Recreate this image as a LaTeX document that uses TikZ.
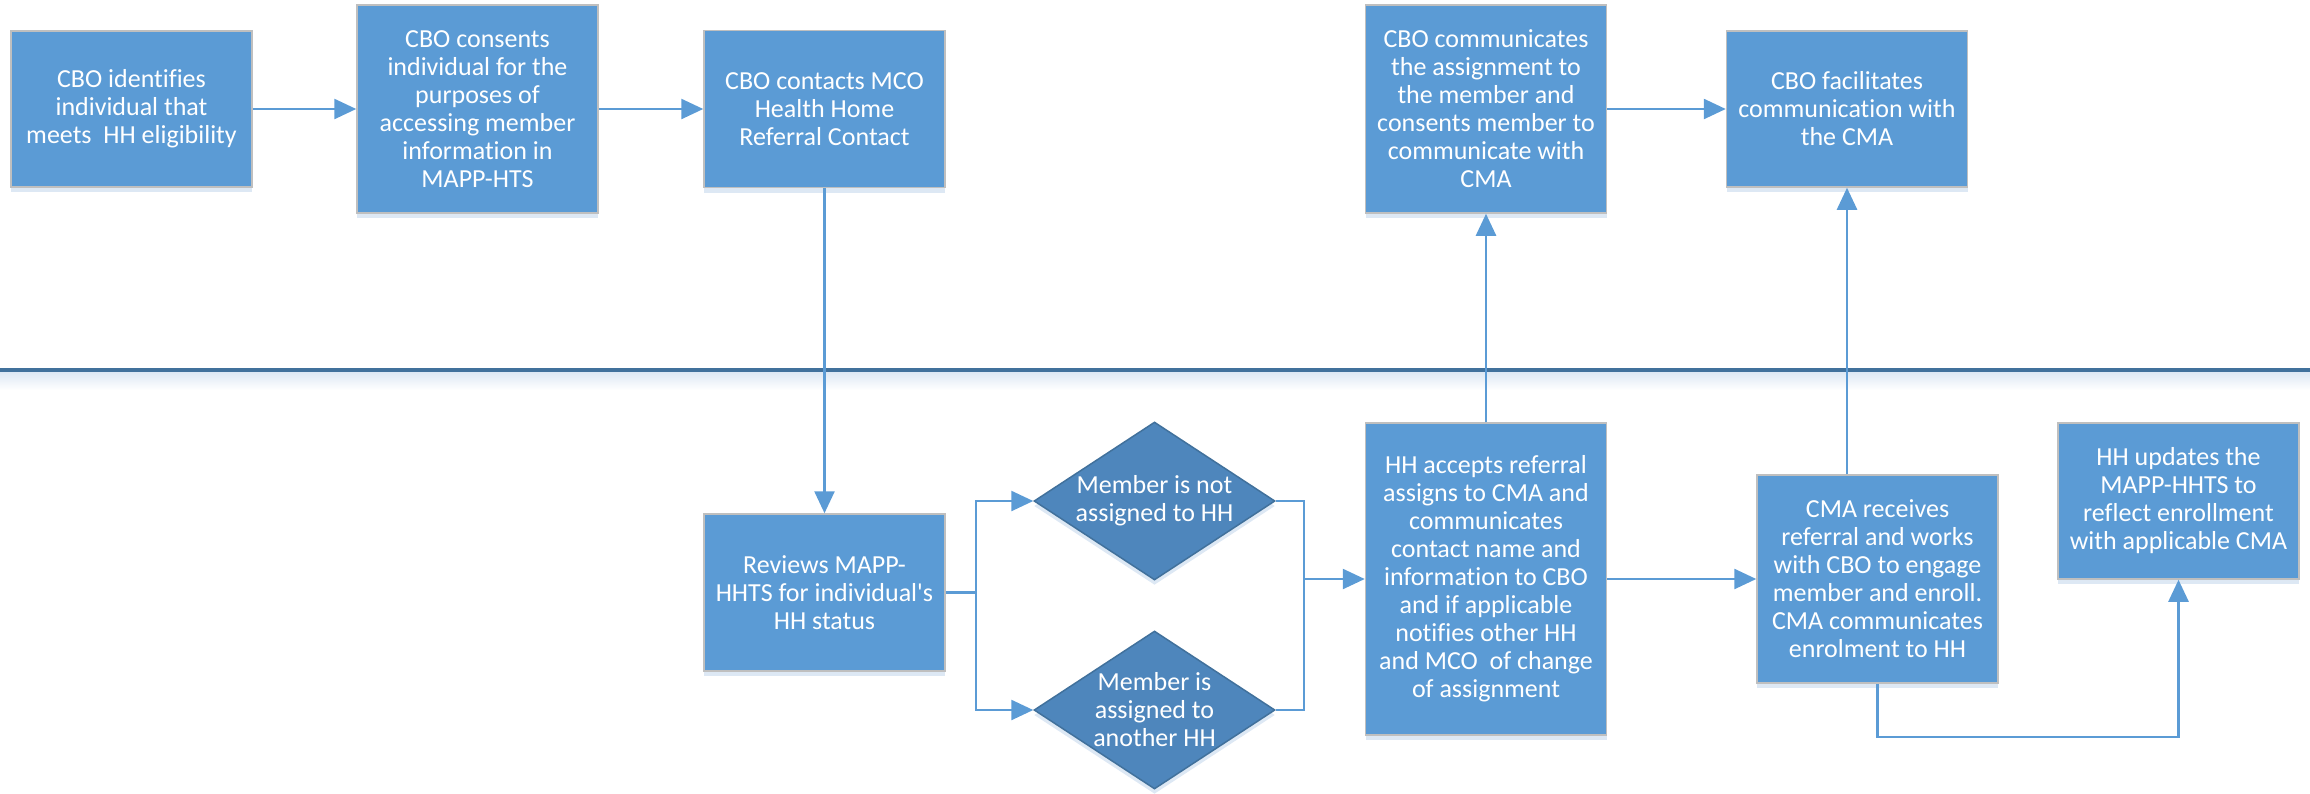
\documentclass[tikz,border=0pt]{standalone}
\usepackage{fontspec}
\setmainfont{Carlito}[Ligatures={NoCommon}]
\usetikzlibrary{arrows.meta,shapes.geometric,shadows,calc}
\definecolor{boxblue}{HTML}{5B9BD5}
\definecolor{diablue}{HTML}{4E86BC}
\definecolor{darkblue}{HTML}{41719C}
\definecolor{lineblue}{HTML}{5B9BD5}
\definecolor{boxedge}{HTML}{BFBFBF}
\definecolor{shadowblue}{HTML}{DDE8F4}
\begin{document}
\begin{tikzpicture}[x=1pt,y=-1pt,
  txt/.style={text=white, align=center, font=\fontsize{26}{28}\selectfont},
  procbox/.style={rectangle, fill=boxblue, draw=boxedge, line width=1.5pt,
    minimum width=241pt, inner sep=0pt, txt,
    drop shadow={fill=shadowblue, opacity=1, shadow xshift=0pt, shadow yshift=-5pt}},
  diam/.style={diamond, fill=diablue, draw=darkblue, line width=1.5pt,
    minimum width=241pt, minimum height=158pt, inner sep=0pt,
    drop shadow={fill=shadowblue, opacity=1, shadow xshift=0pt, shadow yshift=-5pt}},
  conn/.style={draw=lineblue, line width=2.5pt},
  arr/.style={conn, -{Triangle[length=22pt,width=20pt]}}
]
\useasboundingbox (0,0) rectangle (2310,793);

% swimlane separator
\shade[top color=shadowblue, bottom color=white] (0,372) rectangle (2310,390);
\draw[darkblue, line width=3.5pt] (0,370) -- (2310,370);

% top lane
\node[procbox, minimum height=156pt] (b1) at (131.5,109) {CBO identifies\\individual that\\meets\ \ HH eligibility};
\node[procbox, minimum height=208pt] (b2) at (477.5,109) {CBO consents\\individual for the\\purposes of\\accessing member\\information in\\MAPP-HTS};
\node[procbox, minimum height=157pt] (b3) at (824.5,109) {CBO contacts MCO\\Health Home\\Referral Contact};
\node[procbox, minimum height=208pt] (b4) at (1486,109) {CBO communicates\\the assignment to\\the member and\\consents member to\\communicate with\\CMA};
\node[procbox, minimum height=156pt] (b5) at (1847,109) {CBO facilitates\\communication with\\the CMA};

% bottom lane
\node[procbox, minimum height=157pt] (b6) at (824.5,592.5) {Reviews MAPP-\\HHTS for individual\textquotesingle s\\HH status};
\node[diam] (d1) at (1154.5,501) {};
\node[txt] (d1t) at (d1.center) {Member is not\\assigned to HH};
\node[diam] (d2) at (1154.5,710) {};
\node[txt] (d2t) at (d2.center) {Member is\\assigned to\\another HH};
\node[procbox, minimum height=312pt] (b7) at (1486,579) {HH accepts referral\\assigns to CMA and\\communicates\\contact name and\\information to CBO\\and if applicable\\notifies other HH\\and MCO\ \ of change\\of assignment};
\node[procbox, minimum height=208pt] (b8) at (1877.5,579) {CMA receives\\referral and works\\with CBO to engage\\member and enroll.\\CMA communicates\\enrolment to HH};
\node[procbox, minimum height=156pt] (b9) at (2178.5,501) {HH updates the\\MAPP-HHTS to\\reflect enrollment\\with applicable CMA};

% connectors
\draw[arr] (b1.east) -- (b2.west);
\draw[arr] (b2.east) -- (b3.west);
\draw[arr] (b3.south) -- (b6.north);
\draw[conn] (b6.east) -- ++(30,0) coordinate (split);
\draw[arr] (split) |- (d1.west);
\draw[arr] (split) |- (d2.west);
\coordinate (join) at ($(b7.west)+(-61,0)$);
\draw[conn] (d1.east) -| (join);
\draw[conn] (d2.east) -| (join);
\draw[arr] (join) -- (b7.west);
\draw[arr] (b7.north) -- (b4.south);
\draw[arr] (b4.east) -- (b5.west);
\draw[arr] (b7.east) -- (b8.west);
\draw[arr] (b8.north -| b5.south) -- (b5.south);
\draw[arr] (b8.south) -- ++(0,53) -| (b9.south);
\end{tikzpicture}
\end{document}
